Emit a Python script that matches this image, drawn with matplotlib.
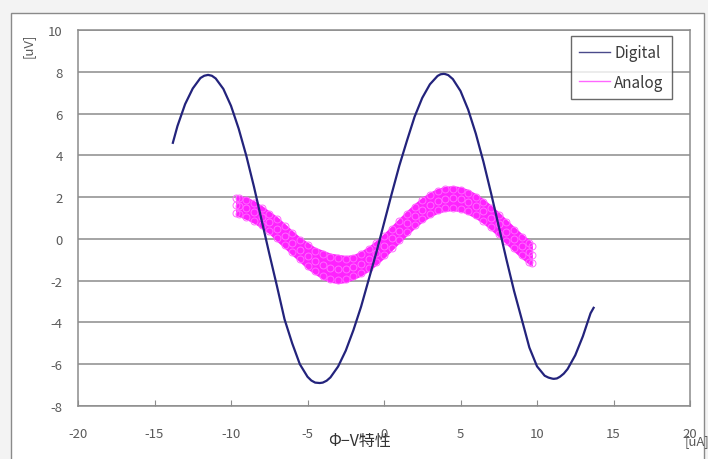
import matplotlib
matplotlib.use("Agg")
import matplotlib.pyplot as plt
from matplotlib.patches import Rectangle
from matplotlib.lines import Line2D
import numpy as np

plt.rcParams['font.family'] = ['Noto Sans CJK JP', 'DejaVu Sans']

# ---- data ----
digital_x = [-13.8, -13.5, -13.0, -12.5, -12.0, -11.75, -11.5, -11.25, -11.0, -10.5, -10.0, -9.5,
             -9.0, -8.5, -8.0, -7.5, -7.0, -6.5, -6.0, -5.5, -5.0, -4.75, -4.5,
             -4.2, -4.0, -3.75, -3.5, -3.0, -2.5, -2.0, -1.5, -1.0, -0.5, 0.0,
             0.5, 1.0, 1.5, 2.0, 2.5, 3.0, 3.5, 3.7, 3.9, 4.0, 4.2, 4.5,
             5.0, 5.5, 6.0, 6.5, 7.0, 7.5, 8.0, 8.5, 9.0, 9.5,
             10.0, 10.5, 10.75, 11.0, 11.1, 11.3, 11.5, 11.75, 12.0, 12.5, 13.0, 13.5, 13.7]
digital_y = [4.6, 5.4, 6.45, 7.2, 7.7, 7.81, 7.85, 7.81, 7.68, 7.18, 6.37, 5.28,
             3.98, 2.5, 0.9, -0.7, -2.25, -3.85, -5.0, -6.0, -6.6, -6.78, -6.88,
             -6.9, -6.88, -6.79, -6.63, -6.11, -5.35, -4.37, -3.25, -1.95, -0.65, 0.75,
             2.15, 3.5, 4.7, 5.85, 6.75, 7.4, 7.8, 7.88, 7.9, 7.89, 7.84, 7.65,
             7.08, 6.19, 5.04, 3.69, 2.18, 0.6, -0.98, -2.49, -3.84, -5.2,
             -6.1, -6.55, -6.64, -6.69, -6.7, -6.68, -6.6, -6.45, -6.23, -5.57, -4.66, -3.56, -3.3]

analog_x = [-9.7, -9.5, -9.0, -8.5, -8.0, -7.5, -7.0, -6.5, -6.0, -5.5,
            -5.0, -4.5, -4.0, -3.5, -3.0, -2.5, -2.0, -1.5, -1.0, -0.5,
            0.0, 0.5, 1.0, 1.5, 2.0, 2.5, 3.0, 3.5, 4.0, 4.5,
            5.0, 5.5, 6.0, 6.5, 7.0, 7.5, 8.0, 8.5, 9.0, 9.5, 9.7]
analog_y = [1.6, 1.57, 1.47, 1.29, 1.06, 0.79, 0.48, 0.15, -0.19, -0.51,
            -0.8, -1.05, -1.24, -1.38, -1.44, -1.44, -1.35, -1.18, -0.95, -0.66,
            -0.33, 0.03, 0.4, 0.76, 1.1, 1.4, 1.64, 1.82, 1.92, 1.95,
            1.9, 1.77, 1.57, 1.32, 1.02, 0.69, 0.34, -0.01, -0.34, -0.64, -0.75]
analog_spread = [0.5, 0.5, 0.55, 0.55, 0.55, 0.55, 0.6, 0.6, 0.6, 0.6,
                 0.65, 0.65, 0.7, 0.7, 0.7, 0.65, 0.6, 0.6, 0.6, 0.6,
                 0.6, 0.6, 0.6, 0.6, 0.6, 0.6, 0.6, 0.6, 0.6, 0.6,
                 0.6, 0.6, 0.6, 0.6, 0.6, 0.6, 0.6, 0.6, 0.6, 0.6, 0.55]

x_ticks = [-20, -15, -10, -5, 0, 5, 10, 15, 20]
y_ticks = [-8, -6, -4, -2, 0, 2, 4, 6, 8, 10]

navy = '#23237c'
magenta = '#ff00ff'
grid_c = '#8c8c8c'
text_c = '#5a5a5a'

fig = plt.figure(figsize=(7.08, 4.60), dpi=100, facecolor='#f3f3f3')
# outer chart frame
fig.patches.append(Rectangle((11 / 708, -0.05), (704 - 11) / 708, 1.05 - 14 / 460,
                             transform=fig.transFigure, facecolor='white',
                             edgecolor='#8a8a8a', linewidth=1.0, zorder=-10))

ax = fig.add_axes([78 / 708, 1 - 407 / 460, (690 - 78) / 708, (407 - 31) / 460])
ax.set_zorder(5)
ax.set_facecolor('white')
ax.set_xlim(-20, 20)
ax.set_ylim(-8, 10)
ax.set_xticks(x_ticks)
ax.set_yticks(y_ticks)
ax.set_xticklabels([str(v) for v in x_ticks])
ax.set_yticklabels([str(v) for v in y_ticks])
for y in y_ticks:
    ax.axhline(y, color=grid_c, lw=1.1, zorder=1)
for s in ax.spines.values():
    s.set_color(grid_c)
    s.set_linewidth(1.1)
ax.tick_params(axis='x', direction='in', length=4, color=grid_c, pad=15,
               labelsize=9.5, labelcolor=text_c)
ax.tick_params(axis='y', length=0, pad=11, labelsize=9.5, labelcolor=text_c)

ay = np.array(analog_y)
asp = np.array(analog_spread)
ax.fill_between(analog_x, ay - asp, ay + asp, color='#ff22ff', lw=0, zorder=2)
ax.plot(analog_x, ay + asp * 0.75, lw=0, marker='o', ms=5,
        mfc='none', mec='#ff66ff', mew=0.7, zorder=3)
ax.plot(analog_x, ay - asp * 0.75, lw=0, marker='o', ms=5,
        mfc='none', mec='#ff66ff', mew=0.7, zorder=3)
ax.plot(analog_x, ay, lw=0, marker='o', ms=5,
        mfc='none', mec='#ff6cff', mew=0.7, zorder=3)

ax.plot(digital_x, digital_y, color=navy, lw=1.6, zorder=4, label='Digital')

handles = [Line2D([], [], color='#4a4a8a', lw=1.0),
           Line2D([], [], color='#ff66ff', lw=1.0)]
leg = ax.legend(handles, ['Digital', 'Analog'], loc='upper right',
                bbox_to_anchor=(672 / 708, 1 - 37 / 460), bbox_transform=fig.transFigure,
                frameon=True, fancybox=False, fontsize=11, handlelength=2.0,
                handletextpad=0.3, borderpad=0.55, labelspacing=0.8,
                borderaxespad=0)
leg.get_frame().set_edgecolor('#444444')
leg.get_frame().set_linewidth(1.0)
for t in leg.get_texts():
    t.set_color('#3a3a3a')

fig.text(28 / 708, 1 - 46 / 460, '[uV]', rotation=90, ha='center', va='center',
         fontsize=9.5, color=text_c)
fig.text(697 / 708, 1 - 442 / 460, '[uA]', ha='center', va='center',
         fontsize=9.5, color=text_c)
fig.text(360 / 708, 1 - 441 / 460, 'Φ−V特性', ha='center', va='center',
         fontsize=11.5, color='#333333')

fig.savefig('out.png', dpi=100, facecolor=fig.get_facecolor())
